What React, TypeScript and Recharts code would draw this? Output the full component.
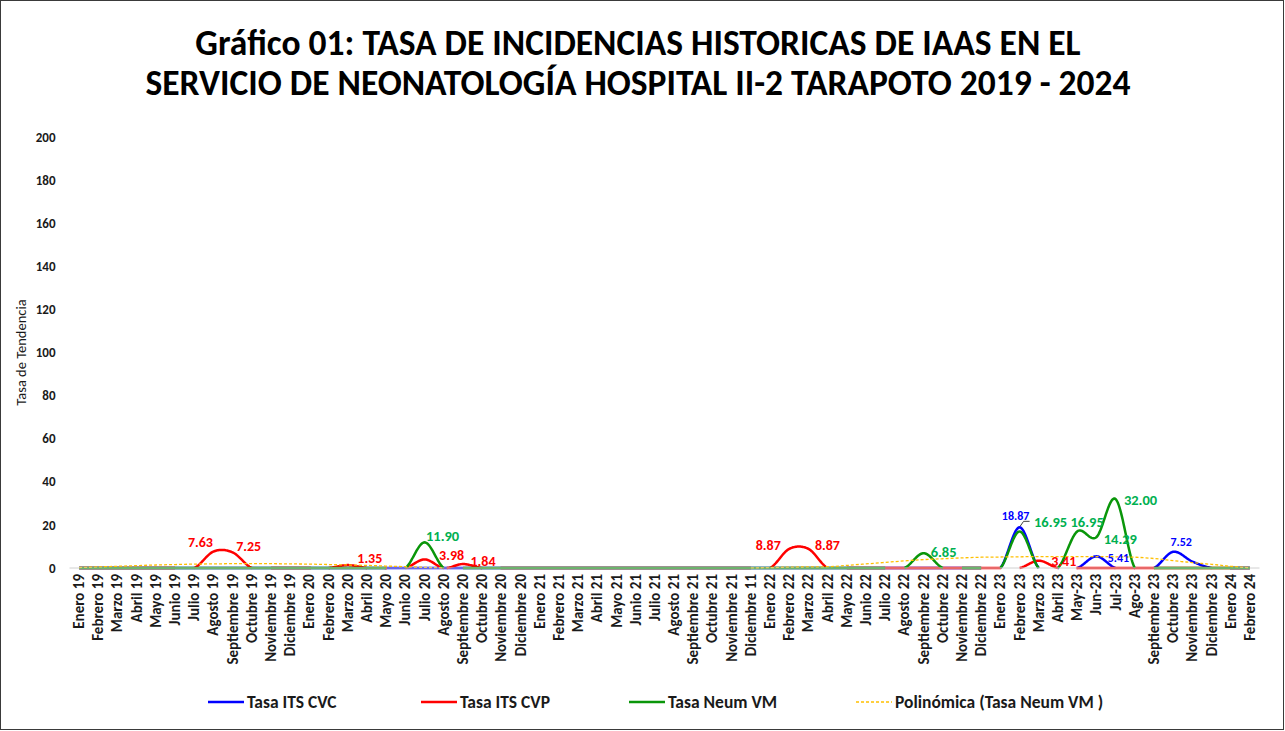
import React from 'react';
import { LineChart, Line, XAxis, YAxis } from 'recharts';

const months = [
  'Enero 19', 'Febrero 19', 'Marzo 19', 'Abril 19', 'Mayo 19', 'Junio 19', 'Julio 19', 'Agosto 19', 'Septiembre 19', 'Octubre 19', 'Noviembre 19', 'Diciembre 19',
  'Enero 20', 'Febrero 20', 'Marzo 20', 'Abril 20', 'Mayo 20', 'Junio 20', 'Julio 20', 'Agosto 20', 'Septiembre 20', 'Octubre 20', 'Noviembre 20', 'Diciembre 20',
  'Enero 21', 'Febrero 21', 'Marzo 21', 'Abril 21', 'Mayo 21', 'Junio 21', 'Julio 21', 'Agosto 21', 'Septiembre 21', 'Octubre 21', 'Noviembre 21', 'Diciembre 11',
  'Enero 22', 'Febrero 22', 'Marzo 22', 'Abril 22', 'Mayo 22', 'Junio 22', 'Julio 22', 'Agosto 22', 'Septiembre 22', 'Octubre 22', 'Noviembre 22', 'Diciembre 22',
  'Enero 23', 'Febrero 23', 'Marzo 23', 'Abril  23', 'May-23', 'Jun-23', 'Jul-23', 'Ago-23', 'Septiembre 23', 'Octubre 23', 'Noviembre 23', 'Diciembre 23',
  'Enero 24', 'Febrero 24',
];

const tasaCVC = [
  0, 0, 0, 0, 0, 0, 0, 0, 0, 0, 0, 0,
  0, 0, 0, 0, 0, 0, 0, 0, 0, 0, 0, 0,
  0, 0, 0, 0, 0, 0, 0, 0, 0, 0, 0, 0,
  0, 0, 0, 0, 0, 0, 0, 0, 0, 0, 0, 0,
  0, 18.87, 0, 0, 0, 5.41, 0, 0, 0, 7.52, 3.0, 0,
  0, 0,
];

const tasaCVP = [
  0, 0, 0, 0, 0, 0, 0, 7.63, 7.25, 0, 0, 0,
  0, 0, 1.35, 0, 0, 0, 3.98, 0, 1.84, 0, 0, 0,
  0, 0, 0, 0, 0, 0, 0, 0, 0, 0, 0, 0,
  0, 8.87, 8.87, 0, 0, 0, 0, 0, 0, 0, 0, 0,
  0, 0, 3.41, 0, 0, 0, 0, 0, 0, 0, 0, 0,
  0, 0,
];

const tasaNeum = [
  0, 0, 0, 0, 0, 0, 0, 0, 0, 0, 0, 0,
  0, 0, 0, 0, 0, 0, 11.9, 0, 0, 0, 0, 0,
  0, 0, 0, 0, 0, 0, 0, 0, 0, 0, 0, 0,
  0, 0, 0, 0, 0, 0, 0, 0, 6.85, 0, 0, 0,
  0, 16.95, 0, 0, 16.95, 14.29, 32.0, 0, 0, 0, 0, 0,
  0, 0,
];

// polynomial trend of Tasa Neum VM (below zero -> not shown)
const polinomica: (number | null)[] = [
  0.2, 0.5, 0.8, 1.1, 1.4, 1.6, 1.8, 1.9, 2.0, 2.0, 2.0, 1.9,
  1.8, 1.6, 1.4, 1.2, 0.9, 0.6, 0.3, 0.05, null, null, null, null,
  null, null, null, null, null, null, null, null, null, null, null, 0.05,
  0.2, 0.4, 0.5, 0.6, 1.2, 1.9, 2.6, 3.3, 3.9, 4.3, 4.7, 5.0,
  5.1, 5.2, 5.3, 5.3, 5.3, 5.3, 5.2, 5.0, 4.4, 3.4, 2.5, 1.7,
  0.8, 0.1,
];

const yTicks = [0, 20, 40, 60, 80, 100, 120, 140, 160, 180, 200];

const data = months.map((m, i) => ({
  month: m,
  cvc: tasaCVC[i],
  cvp: tasaCVP[i],
  neum: tasaNeum[i],
  poli: polinomica[i],
}));

const FONT = 'Carlito, Lato, "Open Sans", sans-serif';
const NARROW = '"Liberation Sans Narrow", Carlito, Lato, sans-serif';
const BLUE = '#0000FF';
const RED = '#FF0000';
const GREEN = '#0A960A';
const GREEN_LABEL = '#00B050';
const ORANGE = '#FFC000';

// Excel-like smoothing (Catmull-Rom, 1/6 tangents); parts that dip below the
// series minimum (value 0) are hidden, as the plot area clips them.
const excelSmooth: any = (context: any) => {
  let pts: number[][] = [];
  return {
    areaStart() {},
    areaEnd() {},
    lineStart() {
      pts = [];
    },
    lineEnd() {
      const n = pts.length;
      if (n === 0) return;
      const base = Math.max(...pts.map((p) => p[1]));
      const eps = 0.01;
      let pen = false;
      let prev: number[] | null = null;
      const emit = (x: number, y: number) => {
        if (prev === null) {
          if (y <= base + eps) {
            context.moveTo(x, Math.min(y, base));
            pen = true;
          }
          prev = [x, y];
          return;
        }
        const px = prev[0];
        const py = prev[1];
        const prevIn = py <= base + eps;
        const curIn = y <= base + eps;
        if (prevIn && curIn) {
          if (!pen) {
            context.moveTo(px, Math.min(py, base));
            pen = true;
          }
          context.lineTo(x, Math.min(y, base));
        } else if (prevIn && !curIn) {
          const t = (base - py) / (y - py);
          const ix = px + t * (x - px);
          if (!pen) context.moveTo(px, Math.min(py, base));
          context.lineTo(ix, base);
          pen = false;
        } else if (!prevIn && curIn) {
          const t = (base - py) / (y - py);
          const ix = px + t * (x - px);
          context.moveTo(ix, base);
          context.lineTo(x, Math.min(y, base));
          pen = true;
        } else {
          pen = false;
        }
        prev = [x, y];
      };
      emit(pts[0][0], pts[0][1]);
      const N = 24;
      for (let i = 0; i < n - 1; i++) {
        const p0 = pts[Math.max(i - 1, 0)];
        const p1 = pts[i];
        const p2 = pts[i + 1];
        const p3 = pts[Math.min(i + 2, n - 1)];
        const c1x = p1[0] + (p2[0] - p0[0]) / 6;
        const c1y = p1[1] + (p2[1] - p0[1]) / 6;
        const c2x = p2[0] - (p3[0] - p1[0]) / 6;
        const c2y = p2[1] - (p3[1] - p1[1]) / 6;
        for (let k = 1; k <= N; k++) {
          const t = k / N;
          const u = 1 - t;
          const bx = u * u * u * p1[0] + 3 * u * u * t * c1x + 3 * u * t * t * c2x + t * t * t * p2[0];
          const by = u * u * u * p1[1] + 3 * u * u * t * c1y + 3 * u * t * t * c2y + t * t * t * p2[1];
          emit(bx, by);
        }
      }
    },
    point(x: number, y: number) {
      pts.push([+x, +y]);
    },
  };
};

// label offsets (dx, dy) relative to the data point, by category index
const cvcLabelPos: Record<number, number[]> = { 49: [-4, -11], 53: [22, 2], 57: [8, -10] };
const cvpLabelPos: Record<number, number[]> = {
  7: [-13, -9], 8: [16, -6], 14: [22, -7], 18: [27, -4], 20: [20, -3],
  37: [-21, -3], 38: [19, -3], 50: [25, 1],
};
const neumLabelPos: Record<number, number[]> = {
  18: [18, -6], 44: [20, -1], 49: [31, -9.5], 52: [10, -9.5], 53: [24, 2], 54: [25, 1],
};

const makeLabel = (color: string, pos: Record<number, number[]>, size: number, leaderAt?: number) => (props: any) => {
  const { index, value } = props;
  const vb = props.viewBox || {};
  const x = vb.x ?? props.x;
  const y = vb.y ?? props.y;
  const off = pos[index];
  if (!off || value == null) return null;
  return (
    <g>
      {leaderAt === index && (
        <path
          d={`M${x + 10},${y - 6} L${x + 4},${y - 6} L${x + 0.5},${y - 1}`}
          stroke="#404040"
          strokeWidth={1}
          fill="none"
        />
      )}
      <text
        x={x + off[0]}
        y={y + off[1]}
        fill={color}
        textAnchor="middle"
        dominantBaseline="central"
        fontWeight={700}
        fontSize={size}
        fontFamily={FONT}
      >
        {Number(value).toFixed(2)}
      </text>
    </g>
  );
};

const XTick = (props: any) => {
  const { x, y, payload } = props;
  return (
    <text
      x={x}
      y={y}
      transform={`rotate(-90 ${x} ${y})`}
      textAnchor="end"
      dominantBaseline="central"
      fontSize={15}
      fontWeight={700}
      fontFamily={FONT}
      fill="#1a1a1a"
    >
      {payload.value}
    </text>
  );
};

const YLabel = (props: any) => {
  const vb = props.viewBox || { x: 0, y: 137, width: 69.5, height: 431 };
  const cx = vb.x + 21;
  const cy = vb.y + vb.height / 2;
  return (
    <text
      x={cx}
      y={cy}
      transform={`rotate(-90 ${cx} ${cy})`}
      textAnchor="middle"
      dominantBaseline="central"
      fontSize={14.5}
      fontFamily={FONT}
      fill="#1a1a1a"
    >
      Tasa de Tendencia
    </text>
  );
};

const legendItems = [
  { name: 'Tasa ITS CVC', color: BLUE, left: 208, dashed: false },
  { name: 'Tasa ITS CVP', color: RED, left: 421, dashed: false },
  { name: 'Tasa Neum VM', color: GREEN, left: 629, dashed: false },
  { name: 'Polinómica (Tasa Neum VM )', color: ORANGE, left: 856, dashed: true },
];

export default function App() {
  return (
    <div style={{ position: 'absolute', left: 0, top: 0, width: 1285, height: 731, background: '#fff', overflow: 'hidden' }}>
      <div
        style={{
          position: 'absolute',
          left: 0,
          top: 0,
          width: 1282,
          height: 728,
          border: '1px solid #3a3a3a',
        }}
      />
      <div
        style={{
          position: 'absolute',
          left: 0,
          top: 23,
          width: 1276,
          textAlign: 'center',
          fontFamily: FONT,
          fontWeight: 700,
          fontSize: 35.5,
          lineHeight: '40px',
          color: '#000',
          whiteSpace: 'nowrap',
        }}
      >
        <div>Gráfico 01: TASA DE INCIDENCIAS HISTORICAS DE IAAS EN EL</div>
        <div>SERVICIO DE NEONATOLOGÍA HOSPITAL II-2 TARAPOTO 2019 - 2024</div>
      </div>
      <div style={{ position: 'absolute', left: 0, top: 0 }}>
        <LineChart width={1285} height={731} data={data} margin={{ top: 137, right: 25.5, bottom: 63, left: 0 }}>
          <XAxis
            dataKey="month"
            interval={0}
            height={100}
            tick={<XTick />}
            tickLine={false}
            tickSize={0}
            tickMargin={6}
            axisLine={{ stroke: '#D0D0D0', strokeWidth: 1 }}
            padding={{ left: 9.6, right: 9.6 }}
          />
          <YAxis
            domain={[0, 200]}
            ticks={yTicks}
            width={69.5}
            axisLine={false}
            tickLine={false}
            tickSize={0}
            tickMargin={14}
            tick={{ fontSize: 13, fontWeight: 700, fill: '#1a1a1a', fontFamily: FONT }}
            label={YLabel}
          />
          <Line
            dataKey="cvc"
            name="Tasa ITS CVC"
            type={excelSmooth}
            stroke={BLUE}
            strokeWidth={2.5}
            dot={false}
            activeDot={false}
            isAnimationActive={false}
            label={makeLabel(BLUE, cvcLabelPos, 12, 49)}
          />
          <Line
            dataKey="cvp"
            name="Tasa ITS CVP"
            type={excelSmooth}
            stroke={RED}
            strokeWidth={2.5}
            dot={false}
            activeDot={false}
            isAnimationActive={false}
            label={makeLabel(RED, cvpLabelPos, 14)}
          />
          <Line
            dataKey="neum"
            name="Tasa Neum VM"
            type={excelSmooth}
            stroke={GREEN}
            strokeWidth={2.5}
            dot={false}
            activeDot={false}
            isAnimationActive={false}
            label={makeLabel(GREEN_LABEL, neumLabelPos, 14.5)}
          />
          <Line
            dataKey="poli"
            name="Polinómica (Tasa Neum VM )"
            type="monotone"
            stroke={ORANGE}
            strokeWidth={1.3}
            strokeDasharray="3 2"
            dot={false}
            activeDot={false}
            isAnimationActive={false}
          />
        </LineChart>
      </div>
      {legendItems.map((it) => (
        <div
          key={it.name}
          style={{
            position: 'absolute',
            left: it.left,
            top: 692,
            height: 20,
            display: 'flex',
            alignItems: 'center',
            fontFamily: NARROW,
            fontWeight: 700,
            fontSize: 17.5,
            color: '#1a1a1a',
            whiteSpace: 'nowrap',
          }}
        >
          <svg width={36} height={4} style={{ marginRight: 3 }}>
            {it.dashed ? (
              <line x1={0} y1={2} x2={36} y2={2} stroke={it.color} strokeWidth={1.3} strokeDasharray="3 2" />
            ) : (
              <line x1={0} y1={2} x2={36} y2={2} stroke={it.color} strokeWidth={2.5} />
            )}
          </svg>
          <span>{it.name}</span>
        </div>
      ))}
    </div>
  );
}
